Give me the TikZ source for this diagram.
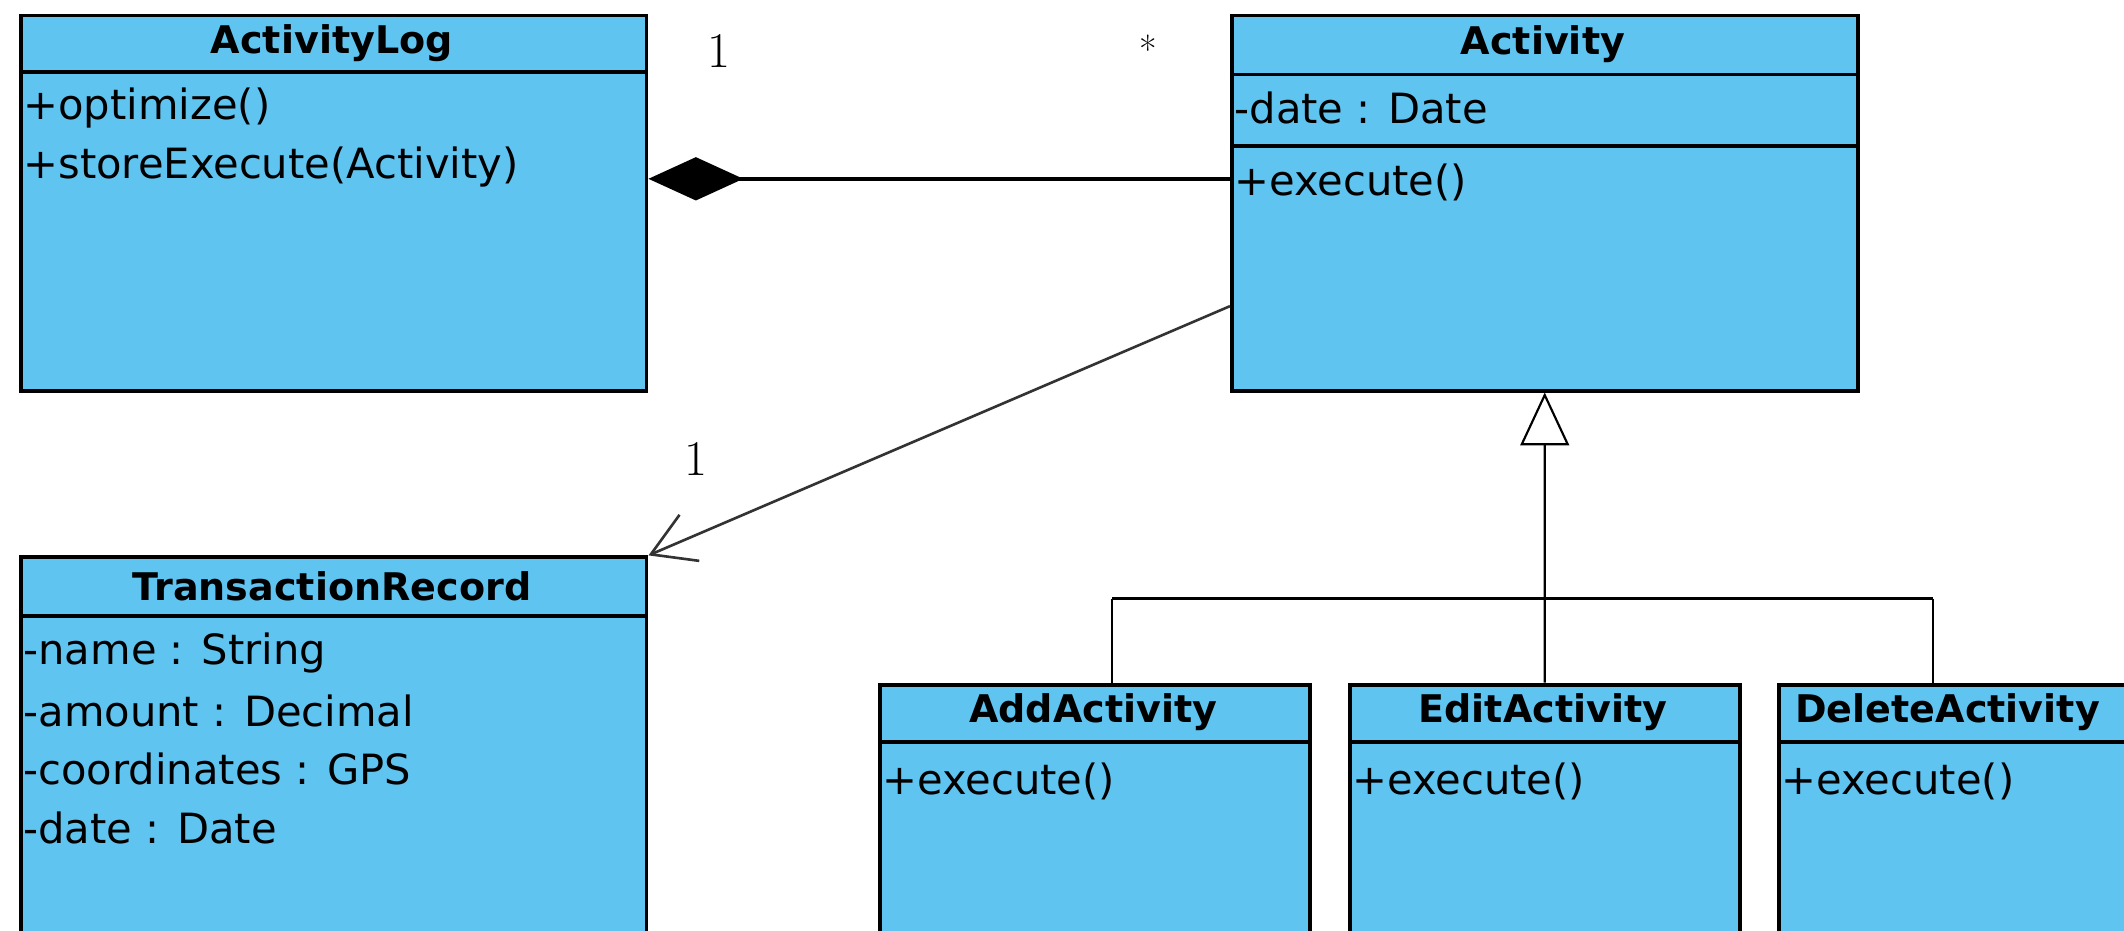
\documentclass[tikz,border=0pt]{standalone}
\usepackage{fontspec}
\usetikzlibrary{arrows.meta}
\newfontfamily\umlfont{DejaVu Sans}
\newcommand{\umltitle}{\umlfont\bfseries\fontsize{16}{19}\selectfont}
\newcommand{\umlmember}{\umlfont\fontsize{17.5}{20}\selectfont}
\definecolor{umlblue}{RGB}{96,196,240}
\begin{document}
\begin{tikzpicture}[x=0.02cm, y=-0.02cm,
  umlclass/.style={draw, fill=umlblue, line width=1.6pt, anchor=north west, inner sep=0pt},
  classtitle/.style={inner sep=0pt, font=\umltitle},
  member/.style={anchor=west, inner sep=0pt, font=\umlmember},
  divider/.style={line width=1.6pt},
  mult/.style={anchor=base, inner sep=0pt, font=\fontsize{21}{24}\selectfont},
  assoc/.style={draw=black!80, line width=1.1pt, -{Straight Barb[length=0.62cm,width=0.74cm]}},
  comp/.style={line width=1.5pt, -{Diamond[length=1.4cm,width=0.64cm]}},
  gen/.style={line width=0.9pt}]
	\clip[use as bounding box] (0,0) rectangle (1568,687);
	% ActivityLog
	\node[umlclass, minimum width=9.24cm, minimum height=5.54cm] (alog) at (14,10) {};
	\node[classtitle] (alogname) at (245,31.5) {ActivityLog};
	\draw[divider] (alog.west |- 0,53) -- (alog.east |- 0,53);
	\node[member] (alogop1) at (17,80) {+optimize()};
	\node[member] (alogop2) at (17,123) {+storeExecute(Activity)};
	% Activity
	\node[umlclass, minimum width=9.24cm, minimum height=5.54cm] (act) at (908,10) {};
	\node[classtitle] (actname) at (1139,32.5) {Activity};
	\draw[divider] (act.west |- 0,55) -- (act.east |- 0,55);
	\draw[divider] (act.west |- 0,108) -- (act.east |- 0,108);
	\node[member] (actattr) at (911,80) {-date : Date};
	\node[member] (actop) at (911,135) {+execute()};
	% TransactionRecord
	\node[umlclass, minimum width=9.24cm, minimum height=5.8cm] (trec) at (14,410) {};
	\node[classtitle] (trecname) at (245,432.5) {TransactionRecord};
	\draw[divider] (trec.west |- 0,455) -- (trec.east |- 0,455);
	\node[member] (trecattr1) at (17,482) {-name : String};
	\node[member] (trecattr2) at (17,525) {-amount : Decimal};
	\node[member] (trecattr3) at (17,568) {-coordinates : GPS};
	\node[member] (trecattr4) at (17,611) {-date : Date};
	% subclasses
	\node[umlclass, minimum width=6.36cm, minimum height=3.92cm] (add) at (648,504) {};
	\node[classtitle] (addname) at (807,526) {AddActivity};
	\draw[divider] (add.west |- 0,548) -- (add.east |- 0,548);
	\node[member] (addop) at (651,577) {+execute()};
	\node[umlclass, minimum width=5.76cm, minimum height=3.92cm] (edit) at (995,504) {};
	\node[classtitle] (editname) at (1139,526) {EditActivity};
	\draw[divider] (edit.west |- 0,548) -- (edit.east |- 0,548);
	\node[member] (editop) at (998,577) {+execute()};
	\node[umlclass, minimum width=6.16cm, minimum height=3.92cm] (del) at (1312,504) {};
	\node[classtitle, anchor=west] (delname) at (1325,526) {DeleteActivity};
	\draw[divider] (del.west |- 0,548) -- (del.east |- 0,548);
	\node[member] (delop) at (1315,577) {+execute()};
	% connectors
	\draw[comp] (act.west |- 0,132) -- (alog.east |- 0,132);
	\node[mult] (compone) at (531,50) {1};
	\node[mult, font=\fontsize{16}{18}\selectfont] (compmany) at (848,47) {*};
	\draw[assoc] (act.west |- 0,226) -- (trec.north east);
	\node[mult] (assocone) at (514,351) {1};
	\draw[gen, -{Triangle[length=0.78cm,width=0.72cm,fill=white]}] (edit.north) -- (act.south);
	\coordinate (busL) at (821,442);
	\coordinate (busR) at (1427,442);
	\draw[line width=1.4pt] (busL) -- (busR);
	\draw[gen] (busL) -- (busL |- add.north);
	\draw[gen] (busR) -- (busR |- del.north);
\end{tikzpicture}
\end{document}
